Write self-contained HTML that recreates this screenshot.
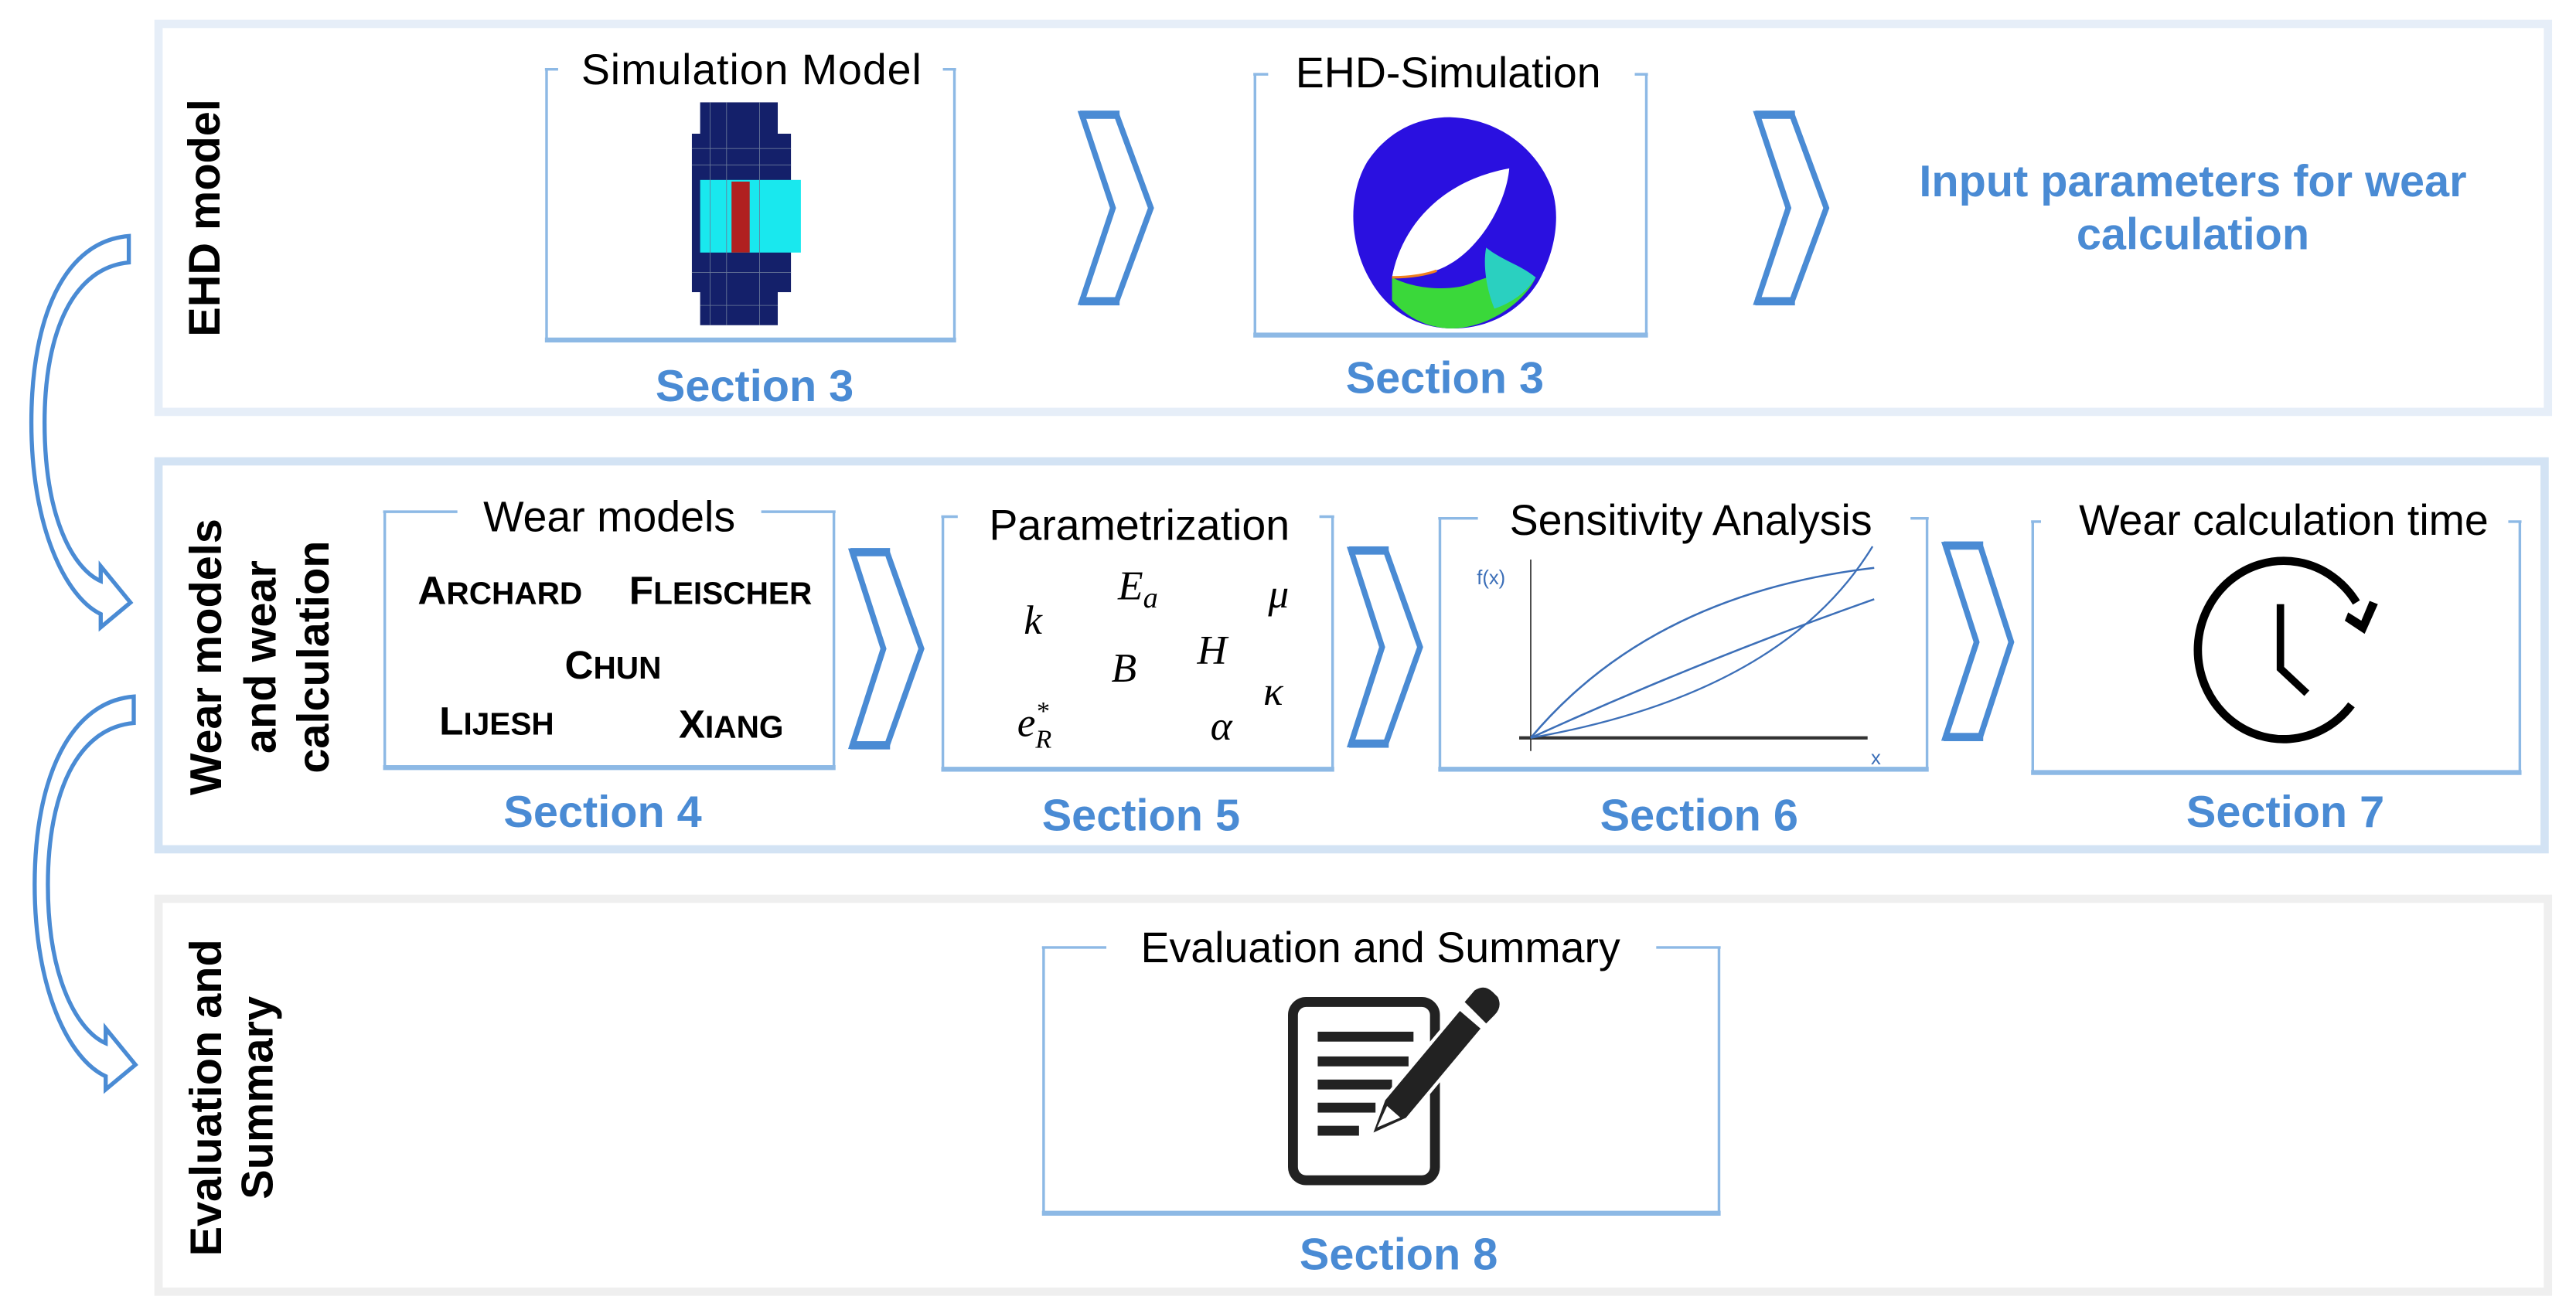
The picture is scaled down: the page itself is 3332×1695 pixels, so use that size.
<!DOCTYPE html>
<html><head><meta charset="utf-8"><style>
html,body{margin:0;padding:0;background:#fff;}
svg{display:block;}
text{font-family:"Liberation Sans",Arial,sans-serif;}
.t{font-size:26px;fill:#000;text-anchor:middle;}
.s{font-size:27px;font-weight:bold;fill:#4a8bd4;text-anchor:middle;}
.r{font-size:27px;font-weight:bold;fill:#000;text-anchor:middle;}
.m{font-family:"Liberation Serif",serif;font-style:italic;font-size:25px;fill:#000;}
.w{font-weight:bold;fill:#000;}
</style></head><body>
<svg width="3332" height="1695" viewBox="0 0 1560 793.6" preserveAspectRatio="none" xmlns="http://www.w3.org/2000/svg">
<rect width="1560" height="794" fill="#fff"/>
<rect x="96" y="14.5" width="1447" height="235" fill="#fff" stroke="#e6eef8" stroke-width="5"/>
<rect x="96" y="279.5" width="1445" height="235" fill="#fff" stroke="#d3e3f4" stroke-width="5"/>
<rect x="96" y="544.5" width="1447" height="238" fill="#fff" stroke="#efefef" stroke-width="5"/>

<path d="M78,143 C40,146 19,190 19,256 C19,320 40,362 61,372 L61,380 L79,365 L61,343 L61,352 C45,345 27,315 27,256 C27,200 45,162 78,159 Z" fill="#fff" stroke="#4a8bd4" stroke-width="2.5"/>
<path d="M81,422 C43,425 21,470 21,536 C21,600 42,642 64,652 L64,660 L82,645 L64,623 L64,632 C48,625 29,595 29,536 C29,480 47,441 81,438 Z" fill="#fff" stroke="#4a8bd4" stroke-width="2.5"/>

<text class="r" transform="translate(133,132) rotate(-90)">EHD model</text>
<text class="r" transform="translate(134,398) rotate(-90)">Wear models</text>
<text class="r" transform="translate(167,398) rotate(-90)">and wear</text>
<text class="r" transform="translate(199,398) rotate(-90)">calculation</text>
<text class="r" transform="translate(134,665) rotate(-90)">Evaluation and</text>
<text class="r" transform="translate(165,665) rotate(-90)">Summary</text>

<g fill="none" stroke="#8db9e5">
 <path d="M331,206 L331,42 M578,42 L578,206" stroke-width="1.6"/><path d="M330,206 L579,206" stroke-width="3"/><path d="M330,42 L579,42" stroke-width="1.6"/>
 <path d="M760,203 L760,45 M997,45 L997,203" stroke-width="1.6"/><path d="M759,203 L998,203" stroke-width="3"/><path d="M759,45 L998,45" stroke-width="1.6"/>
 <path d="M233,465 L233,310 M505,310 L505,465" stroke-width="1.6"/><path d="M232,465 L506,465" stroke-width="3"/><path d="M232,310 L506,310" stroke-width="1.6"/>
 <path d="M571,466 L571,313 M807,313 L807,466" stroke-width="1.6"/><path d="M570,466 L808,466" stroke-width="3"/><path d="M570,313 L808,313" stroke-width="1.6"/>
 <path d="M872,466 L872,314 M1167,314 L1167,466" stroke-width="1.6"/><path d="M871,466 L1168,466" stroke-width="3"/><path d="M871,314 L1168,314" stroke-width="1.6"/>
 <path d="M1231,468 L1231,316 M1526,316 L1526,468" stroke-width="1.6"/><path d="M1230,468 L1527,468" stroke-width="3"/><path d="M1230,316 L1527,316" stroke-width="1.6"/>
 <path d="M632,735 L632,574 M1041,574 L1041,735" stroke-width="1.6"/><path d="M631,735 L1042,735" stroke-width="3"/><path d="M631,574 L1042,574" stroke-width="1.6"/>
</g>
<rect x="338" y="36" width="233" height="12" fill="#fff"/>
<rect x="768" y="38" width="222" height="12" fill="#fff"/>
<rect x="277" y="303" width="184" height="12" fill="#fff"/>
<rect x="580" y="306" width="219" height="12" fill="#fff"/>
<rect x="895" y="307" width="262" height="12" fill="#fff"/>
<rect x="1236" y="309" width="283" height="12" fill="#fff"/>
<rect x="670" y="567" width="333" height="12" fill="#fff"/>

<text class="t" x="455" y="51" textLength="206">Simulation Model</text>
<text class="t" x="877" y="53">EHD-Simulation</text>
<text class="t" x="369" y="322">Wear models</text>
<text class="t" x="690" y="327">Parametrization</text>
<text class="t" x="1024" y="324">Sensitivity Analysis</text>
<text class="t" x="1383" y="324">Wear calculation time</text>
<text class="t" x="836" y="583">Evaluation and Summary</text>

<text class="s" x="457" y="243">Section 3</text>
<text class="s" x="875" y="238">Section 3</text>
<text class="s" x="365" y="501">Section 4</text>
<text class="s" x="691" y="503">Section 5</text>
<text class="s" x="1029" y="503">Section 6</text>
<text class="s" x="1384" y="501">Section 7</text>
<text class="s" x="847" y="769">Section 8</text>

<text class="s" x="1328" y="119" font-size="26">Input parameters for wear</text>
<text class="s" x="1328" y="151" font-size="26">calculation</text>

<g fill="#fff" stroke="#4a8bd4" stroke-width="3.5" stroke-linejoin="miter">
<polygon points="655,69 676,69 697,126 676,183 655,183 674,126"/>
<polygon points="1064,69 1085,69 1106,126 1085,183 1064,183 1083,126"/>
<polygon points="516,334 537,334 558,393 537,452 516,452 535,393"/>
<polygon points="818,333 839,333 860,392 839,451 818,451 837,392"/>
<polygon points="1178,330 1199,330 1218,389 1199,447 1178,447 1197,389"/>
</g>
<g fill="#4a8bd4">
<rect x="654" y="67" width="24" height="5"/><rect x="1063" y="67" width="24" height="5"/>
<rect x="515" y="332" width="24" height="5"/><rect x="817" y="331" width="24" height="5"/><rect x="1177" y="328" width="24" height="5"/>
<rect x="654" y="180" width="24" height="5"/><rect x="1063" y="180" width="24" height="5"/>
<rect x="515" y="449" width="24" height="5"/><rect x="817" y="448" width="24" height="5"/><rect x="1177" y="444" width="24" height="5"/>
</g>

<g>
<rect x="424" y="62" width="47" height="135" fill="#14206a"/>
<rect x="419" y="81" width="60" height="96" fill="#14206a"/>
<rect x="424" y="109" width="61" height="44" fill="#19e8ee"/>
<rect x="443" y="110" width="11" height="43" fill="#b02020"/>
<g stroke="#6a7a9a" stroke-width="0.4">
<line x1="430" y1="62" x2="430" y2="197"/><line x1="440" y1="62" x2="440" y2="197"/><line x1="460" y1="62" x2="460" y2="197"/>
<line x1="419" y1="90" x2="479" y2="90"/><line x1="419" y1="100" x2="479" y2="100"/><line x1="419" y1="165" x2="479" y2="165"/><line x1="424" y1="185" x2="471" y2="185"/>
</g>
</g>

<!-- EHD ring -->
<path d="M878,71 C910,72 930,92 938,110 C945,125 944,148 932,170 C920,190 900,199 880,199 C858,199 840,188 830,170 C818,150 815,120 828,98 C840,80 858,71 878,71 Z" fill="#2a10e0"/>
<path d="M843,168 C858,176 880,176 890,172 C900,168 915,162 930,168 C925,180 905,198 880,199 C862,199 850,190 843,182 Z" fill="#3ad83a"/>
<path d="M900,150 C910,158 920,160 930,168 C924,178 914,184 905,187 C900,175 898,160 900,150 Z" fill="#2ad0c0"/>
<path d="M843,168 C848,140 870,110 914,102 C912,125 893,158 866,165 C858,167 850,168 843,168 Z" fill="#fff"/>
<path d="M843,168 C855,168 865,166 870,164" stroke="#f08020" stroke-width="1.5" fill="none"/>

<text class="w" x="253" y="366"><tspan font-size="24">A</tspan><tspan font-size="19">RCHARD</tspan></text>
<text class="w" x="381" y="366"><tspan font-size="24">F</tspan><tspan font-size="19">LEISCHER</tspan></text>
<text class="w" x="342" y="411"><tspan font-size="24">C</tspan><tspan font-size="19">HUN</tspan></text>
<text class="w" x="266" y="445"><tspan font-size="24">L</tspan><tspan font-size="19">IJESH</tspan></text>
<text class="w" x="411" y="447"><tspan font-size="24">X</tspan><tspan font-size="19">IANG</tspan></text>

<text class="m" x="620" y="384">k</text>
<text class="m" x="677" y="363">E<tspan font-size="18" dy="5">a</tspan></text>
<text class="m" x="768" y="368">μ</text>
<text class="m" x="673" y="413">B</text>
<text class="m" x="725" y="402">H</text>
<text class="m" x="765" y="427">κ</text>
<text class="m" x="616" y="446">e<tspan font-size="16" dy="-10">*</tspan><tspan font-size="16" dx="-8" dy="17">R</tspan></text>
<text class="m" x="733" y="448">α</text>

<g fill="none">
<line x1="927" y1="339" x2="927" y2="455" stroke="#333" stroke-width="0.8"/>
<line x1="920" y1="447" x2="1131" y2="447" stroke="#333" stroke-width="2"/>
<path d="M927,447 Q1000,360 1135,344" stroke="#3c6fb8" stroke-width="1.2"/>
<path d="M927,447 Q1030,400 1135,363" stroke="#3c6fb8" stroke-width="1.2"/>
<path d="M927,447 Q1080,420 1134,331" stroke="#3c6fb8" stroke-width="1.1"/>
</g>
<text x="903" y="354" font-size="12" fill="#3c6fb8" text-anchor="middle">f(x)</text>
<text x="1136" y="463" font-size="12" fill="#3c6fb8" text-anchor="middle">x</text>

<g fill="none" stroke="#000" stroke-width="5" stroke-linecap="butt">
<path d="M1427,365 A52,54 0 1 0 1424,427"/>
<path d="M1381,366 L1381,405 L1397,420" stroke-width="4.5"/>
</g>
<path d="M1420,376 L1432,384 L1440,366 L1435,364 L1430,376 L1422,371 Z" fill="#000"/>

<g>
<rect x="783" y="607" width="86" height="108" rx="8" fill="none" stroke="#222" stroke-width="6"/>
<g fill="#222">
<rect x="798" y="625" width="58" height="6"/><rect x="798" y="640" width="55" height="6"/><rect x="798" y="654" width="45" height="6"/><rect x="798" y="668" width="35" height="6"/><rect x="798" y="682" width="25" height="6"/>
</g>
<path d="M830,688 L838,666 L884,611 L898,623 L852,678 Z" fill="#222" stroke="#fff" stroke-width="2"/>
<path d="M887,607 L893,600 Q899,596 904,601 L907,604 Q910,610 905,615 L900,620 Z" fill="#222"/>
<path d="M834,683 L840,670 L848,677 Z" fill="#fff"/>
</g>
</svg>
</body></html>
